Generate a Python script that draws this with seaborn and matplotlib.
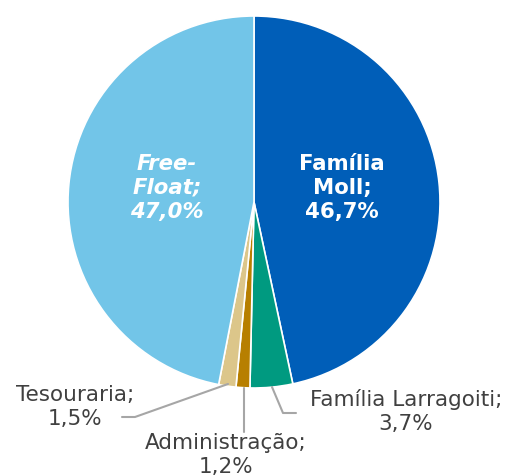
import matplotlib
matplotlib.use("Agg")
import matplotlib.pyplot as plt
import seaborn as sns

labels = ["Família Moll", "Família Larragoiti", "Administração", "Tesouraria", "Free-Float"]
values = [46.7, 3.7, 1.2, 1.5, 47.0]
colors = ["#005EB8", "#009A80", "#B77F00", "#DCC68A", "#72C5E8"]

sns.set_theme(style="white")
plt.rcParams['font.family'] = ['DejaVu Sans']

W, H = 506, 475
fig = plt.figure(figsize=(W / 100, H / 100), dpi=100)
ax = fig.add_axes([0, 0, 1, 1])

cx, cy, r = 254, H - 202, 186
ax.pie(values, colors=colors, startangle=90, counterclock=False,
       center=(cx, cy), radius=r, frame=True,
       wedgeprops=dict(edgecolor='white', linewidth=1.2))
ax.set_xlim(0, W)
ax.set_ylim(0, H)
ax.set_aspect('equal')
ax.axis('off')

def fmt(v):
    return f"{v:.1f}".replace(".", ",") + "%"

# inner labels
ax.text(342, H - 188, f"Família\nMoll;\n{fmt(values[0])}", ha='center', va='center',
        color='white', fontsize=15.3, fontweight='bold', linespacing=1.28)
ax.text(167, H - 188, f"Free-\nFloat;\n{fmt(values[4])}", ha='center', va='center',
        color='white', fontsize=15.3, fontweight='bold', fontstyle='italic', linespacing=1.28)

# outer labels with leader lines
gray = '#A6A6A6'
txt = '#404040'
ax.plot([228, 135, 122], [H - 384, H - 417, H - 417], color=gray, lw=1.5)
ax.text(75, H - 407, f"{labels[3]};\n{fmt(values[3])}", ha='center', va='center',
        color=txt, fontsize=15.5, linespacing=1.25)

ax.plot([244, 244], [H - 388, H - 432], color=gray, lw=1.5)
ax.text(226, H - 455, f"{labels[2]};\n{fmt(values[2])}", ha='center', va='center',
        color=txt, fontsize=15.5, linespacing=1.25)

ax.plot([272, 283, 296], [H - 387, H - 413, H - 413], color=gray, lw=1.5)
ax.text(406, H - 412, f"{labels[1]};\n{fmt(values[1])}", ha='center', va='center',
        color=txt, fontsize=15.5, linespacing=1.25)

fig.savefig("out.png", dpi=100)
